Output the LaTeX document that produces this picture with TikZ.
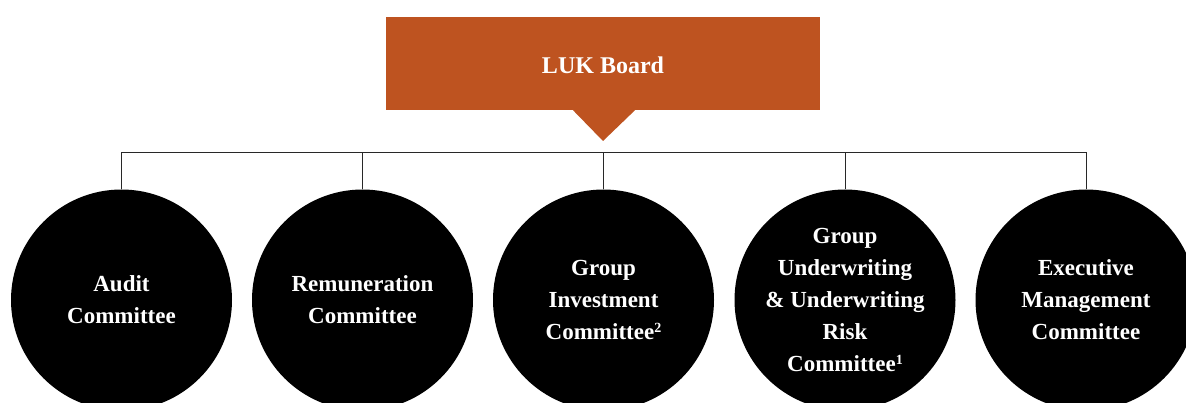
\documentclass[tikz,border=0pt]{standalone}
\usepackage{fontspec}
\setmainfont{Liberation Serif}
\definecolor{boardorange}{RGB}{190,83,32}
\definecolor{linegray}{RGB}{40,40,40}
\newcommand{\smallsup}[1]{\raisebox{7pt}{\fontsize{14}{14}\selectfont #1}}
\begin{document}
\begin{tikzpicture}[x=1pt,y=-1pt,
  committee/.style={circle,fill=black,text=white,minimum size=221pt,inner sep=0pt,
    align=center,font=\bfseries\fontsize{23}{32}\selectfont},
  boardbox/.style={fill=boardorange,draw=none,minimum width=434pt,minimum height=93pt,
    inner sep=0pt},
  boardtext/.style={text=white,font=\bfseries\fontsize{24}{30}\selectfont},
  conn/.style={draw=linegray,line width=1pt}]
\useasboundingbox (0,0) rectangle (1186,403);
\clip (0,0) rectangle (1186,403);
\node[boardbox] (board) at (603,63.5) {};
\node[boardtext] (boardlabel) at (603,65.5) {LUK Board};
\fill[boardorange] ([xshift=-30pt]board.south) -- (board.south |- 0,141) -- ([xshift=32pt]board.south) -- cycle;
\coordinate (bus) at (603,153);
\node[committee] (c1) at (121.5,300) {Audit\\Committee};
\node[committee] (c2) at (362.5,300) {Remuneration\\Committee};
\node[committee] (c3) at (603.5,300) {Group\\Investment\\Committee\smallsup{2}};
\node[committee] (c4) at (845,300) {Group\\Underwriting\\\&~Underwriting\\Risk\\Committee\smallsup{1}};
\node[committee] (c5) at (1086,300) {Executive\\Management\\Committee};
\draw[conn] (c1.north) -- (c1.north |- bus) -- (c5.north |- bus) -- (c5.north);
\draw[conn] (c2.north |- bus) -- (c2.north);
\draw[conn] (c3.north |- bus) -- (c3.north);
\draw[conn] (c4.north |- bus) -- (c4.north);
\end{tikzpicture}
\end{document}
